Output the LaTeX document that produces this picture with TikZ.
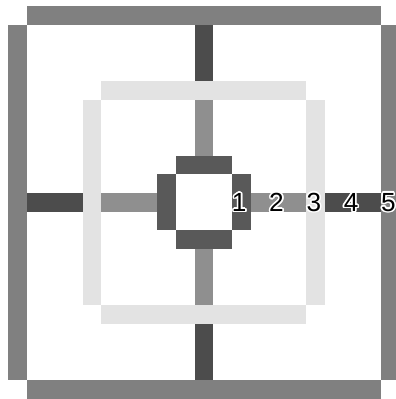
\documentclass[tikz,border=0pt]{standalone}
\usepackage{fontspec}
\setmainfont{Liberation Sans}
\usepackage{xcolor}
\definecolor{ringouter}{gray}{0.50}
\definecolor{ringmid}{gray}{0.89}
\definecolor{ringinner}{gray}{0.35}
\definecolor{spokedark}{gray}{0.30}
\definecolor{spokemid}{gray}{0.56}

\begin{document}
\begin{tikzpicture}[
  x=0.5cm, y=-0.50175cm,
  numlabel/.style={inner sep=0pt, xshift=-1.5pt, font=\fontsize{20}{24}\selectfont},
  halo/.style={numlabel, text=white}
]
\fill[white] (-0.445,-0.321) rectangle (20.805,21.016);
\useasboundingbox (-0.445,-0.321) rectangle (20.805,21.016);
\clip (-0.445,-0.321) rectangle (20.805,21.016);

% rings, corners left open
\foreach \k/\col in {0/ringouter, 4/ringmid, 8/ringinner}{
  \fill[\col] (\k+1,\k) rectangle (20-\k,\k+1);
  \fill[\col] (\k+1,20-\k) rectangle (20-\k,21-\k);
  \fill[\col] (\k,\k+1) rectangle (\k+1,20-\k);
  \fill[\col] (20-\k,\k+1) rectangle (21-\k,20-\k);
}

% spokes between the rings
\fill[spokedark] (10,1) rectangle (11,4);
\fill[spokedark] (10,17) rectangle (11,20);
\fill[spokedark] (1,10) rectangle (4,11);
\fill[spokedark] (17,10) rectangle (20,11);
\fill[spokemid] (10,5) rectangle (11,8);
\fill[spokemid] (10,13) rectangle (11,16);
\fill[spokemid] (5,10) rectangle (8,11);
\fill[spokemid] (13,10) rectangle (16,11);

\foreach \n in {1,...,5}{
  \foreach \a in {0,30,...,330}
    \node[halo, shift={(\a:1.2pt)}] at (10.5+2*\n,10.5) {\n};
  \node[numlabel] (lab\n) at (10.5+2*\n,10.5) {\n};
}

\end{tikzpicture}
\end{document}
